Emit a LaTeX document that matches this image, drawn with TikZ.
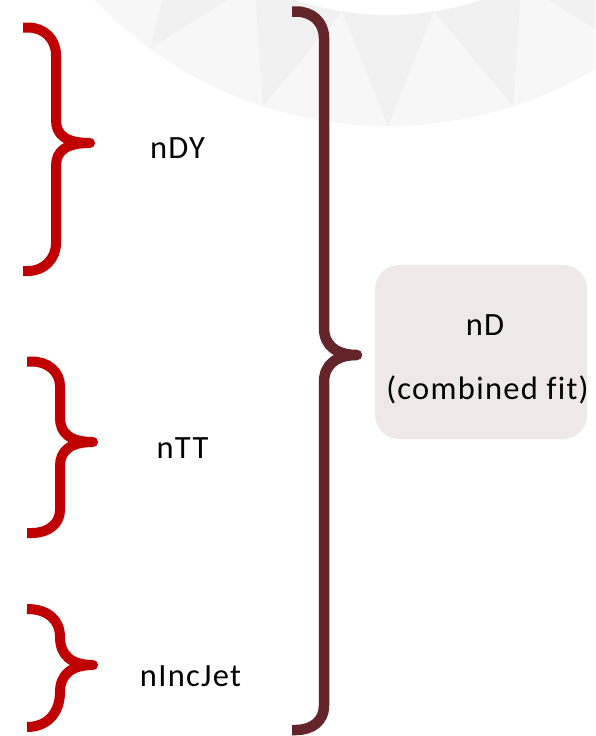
\documentclass[tikz,border=0pt]{standalone}
\usepackage{fontspec}
\usetikzlibrary{calc}
\setmainfont{Carlito}[LetterSpace=4,Ligatures={NoCommon}]
\definecolor{ringlight}{HTML}{F6F7F6}
\definecolor{ringdark}{HTML}{F0F1F0}
\definecolor{bracered}{HTML}{C00000}
\definecolor{bracedark}{HTML}{63242A}
\definecolor{boxfill}{HTML}{EEE8E8}
\tikzset{
  smallbrace/.style={draw=bracered, line width=10pt, line join=round, line cap=butt},
  bigbrace/.style={draw=bracedark, line width=10.5pt, line join=round, line cap=butt},
  lbl/.style={anchor=base, inner sep=0pt, font=\fontsize{32.5}{38}\selectfont},
  resultbox/.style={fill=boxfill, rounded corners=24pt, minimum width=212pt, minimum height=174pt, inner sep=0pt}
}
\begin{document}
\begin{tikzpicture}[x=1pt,y=-1pt]
\useasboundingbox (0,0) rectangle (595,736);
% background ring
\begin{scope}
\clip (0,0) rectangle (595,736);
\coordinate (C) at (388,-279);
\fill[ringlight, even odd rule] (C) circle (405pt) (C) circle (294pt);
\foreach \k in {-10,...,9}{
  \pgfmathsetmacro{\a}{270+18*\k}
  \fill[ringdark] ($(C)+(\a-9:294pt)$) -- ($(C)+(\a:405pt)$) -- ($(C)+(\a+9:294pt)$) -- cycle;
}
\fill[white] (C) circle (294pt);
\end{scope}
% small braces
\path[smallbrace] (23,27.5) -- (28,27.5) .. controls (44,27.5) and (56,39) .. (56,55) -- (56,120)
  .. controls (56,135) and (66,143) .. (90,143)
  .. controls (66,143) and (56,151) .. (56,166) -- (56,243)
  .. controls (56,259) and (44,271) .. (28,271) -- (23,271);
\path[smallbrace] (27,361.5) -- (32,361.5) .. controls (48,361.5) and (60,372) .. (60,386) -- (60,418)
  .. controls (60,433) and (70,442) .. (93,442)
  .. controls (70,442) and (60,451) .. (60,466) -- (60,510)
  .. controls (60,524) and (48,533) .. (32,533) -- (27,533);
\path[smallbrace] (27,609) .. controls (48,609) and (60,620) .. (60,637)
  .. controls (60,655) and (71,665) .. (93,665)
  .. controls (71,665) and (60,675) .. (60,692)
  .. controls (60,712) and (48,727) .. (27,727);
% big brace
\path[bigbrace] (292,11.5) -- (296,11.5) .. controls (312,11.5) and (324,22) .. (324,38) -- (324,328)
  .. controls (324,345) and (336,355) .. (357,355)
  .. controls (336,355) and (324,365) .. (324,382) -- (324,706)
  .. controls (324,721) and (312,730) .. (296,730) -- (292,730);
% result box
\node[resultbox] (box) at (481,352) {};
\node[lbl] (nD) at (485,335) {nD};
\node[lbl] (fit) at (487.5,399) {(combined fit)};
% labels
\node[lbl] (nDY) at (177.5,158.3) {nDY};
\node[lbl] (nTT) at (182.5,458.3) {nTT};
\node[lbl] (nIncJet) at (190.5,686) {nIncJet};
\end{tikzpicture}
\end{document}
